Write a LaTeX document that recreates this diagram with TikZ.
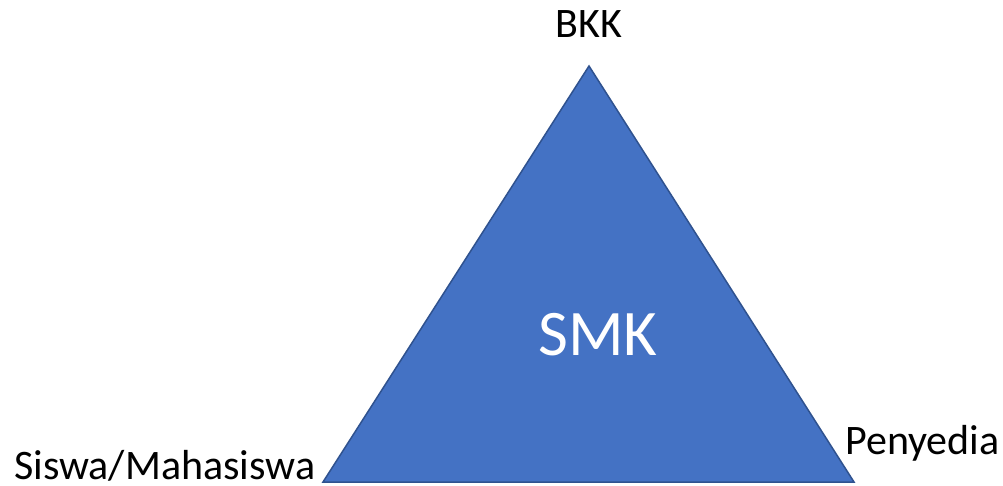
\documentclass[tikz,border=0pt]{standalone}
\usepackage{fontspec}
\setmainfont{Carlito}
\definecolor{triFill}{HTML}{4472C4}
\definecolor{triLine}{HTML}{2F528F}
\begin{document}
\begin{tikzpicture}[x=1pt,y=-1pt,
  lbl/.style={font=\fontsize{42}{48}\selectfont, inner sep=0pt, text=black},
  big/.style={font=\fontsize{65}{72}\selectfont, inner sep=0pt, text=white}]
\useasboundingbox (0,0) rectangle (1003,485);
\coordinate (top) at (589,66);
\coordinate (bl) at (323,482);
\coordinate (br) at (854,482);
\draw[fill=triFill, draw=triLine, line width=1.5pt, line join=miter] (top) -- (br) -- (bl) -- cycle;
\node[lbl, anchor=base] (bkk) at (589,37) {BKK};
\node[lbl, anchor=base west] (siswa) at (14,479) {Siswa/Mahasiswa};
\node[lbl, anchor=base west] (peny) at (845,454) {Penyedia};
\node[big, anchor=base] (smk) at (598,355) {SMK};
\end{tikzpicture}
\end{document}
